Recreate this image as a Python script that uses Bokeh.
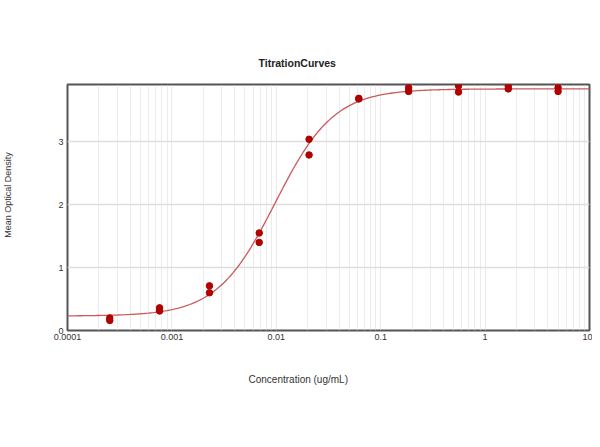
import numpy as np
from bokeh.plotting import figure
from bokeh.models import Range1d, FixedTicker, Title
from bokeh.embed import file_html
from bokeh.resources import INLINE

# 3-fold serial dilution, duplicate wells
conc = [0.000254, 0.000762, 0.00229, 0.00686, 0.0206, 0.0617, 0.185, 0.556, 1.667, 5.0]
od_rep1 = [0.20, 0.36, 0.71, 1.55, 3.04, 3.69, 3.86, 3.89, 3.88, 3.86]
od_rep2 = [0.16, 0.31, 0.60, 1.40, 2.79, 3.68, 3.80, 3.79, 3.84, 3.80]

# 4PL fit parameters
fit_bottom = 0.23
fit_top = 3.84
fit_ec50 = 0.0098
fit_hill = 1.55

x_ticks = [0.0001, 0.001, 0.01, 0.1, 1, 10]
x_tick_labels = ["0.0001", "0.001", "0.01", "0.1", "1", "10"]
y_ticks = [0, 1, 2, 3]

FONT = "Liberation Sans"
NB = "\u00a0"

p = figure(width=592, height=439, x_axis_type="log",
           x_range=Range1d(0.0001, 10), y_range=Range1d(0, 3.91),
           output_backend="svg", toolbar_location=None,
           min_border_left=67, min_border_right=3,
           min_border_top=84, min_border_bottom=109)

# fitted curve
xs = np.logspace(-4, 1, 300)
ys = fit_top + (fit_bottom - fit_top) / (1 + (xs / fit_ec50) ** fit_hill)
p.line(xs, ys, color="#cc5a5a", line_width=1.3)

# replicate points
p.scatter(conc + conc, od_rep1 + od_rep2, size=6.5, color="#b00000", line_color="#b00000")

minor = [m * 10.0 ** e for e in range(-4, 1) for m in range(2, 10)]
p.xaxis.ticker = FixedTicker(ticks=x_ticks, minor_ticks=minor)
p.xaxis.major_label_overrides = dict(zip(x_ticks, x_tick_labels))
p.yaxis.ticker = FixedTicker(ticks=y_ticks)

for ax in (p.xaxis[0], p.yaxis[0]):
    ax.axis_line_color = None
    ax.major_tick_line_color = None
    ax.minor_tick_line_color = None
    ax.major_tick_out = 0
    ax.minor_tick_out = 0
    ax.major_label_text_font = FONT
    ax.major_label_text_font_size = "9px"
    ax.major_label_text_color = "#333333"
p.xaxis.major_label_standoff = 3
p.yaxis.major_label_standoff = 4

p.yaxis.axis_label = NB * 10 + "Mean Optical Density"
p.yaxis.axis_label_text_font = FONT
p.yaxis.axis_label_text_font_size = "9px"
p.yaxis.axis_label_text_font_style = "normal"
p.yaxis.axis_label_text_color = "#333333"
p.yaxis.axis_label_standoff = 42

p.xgrid.grid_line_color = "#d4d4d4"
p.xgrid.grid_line_dash = "1 1"
p.xgrid.minor_grid_line_color = "#d8d8d8"
p.xgrid.minor_grid_line_dash = "1 1"
p.ygrid.grid_line_color = "#dedede"
p.ygrid.grid_line_width = 1.3

p.outline_line_color = "#555555"
p.outline_line_width = 2
p.border_fill_color = "white"

p.add_layout(Title(text="TitrationCurves", align="left", offset=191, standoff=32,
                   text_font=FONT, text_font_size="10.5px", text_font_style="bold",
                   text_color="#222222"), "above")
p.add_layout(Title(text="Concentration (ug/mL)", align="left", offset=181, standoff=62,
                   text_font=FONT, text_font_size="10px", text_font_style="normal",
                   text_color="#333333", vertical_align="top"), "below")

open("out.html", "w").write(file_html(p, INLINE))
